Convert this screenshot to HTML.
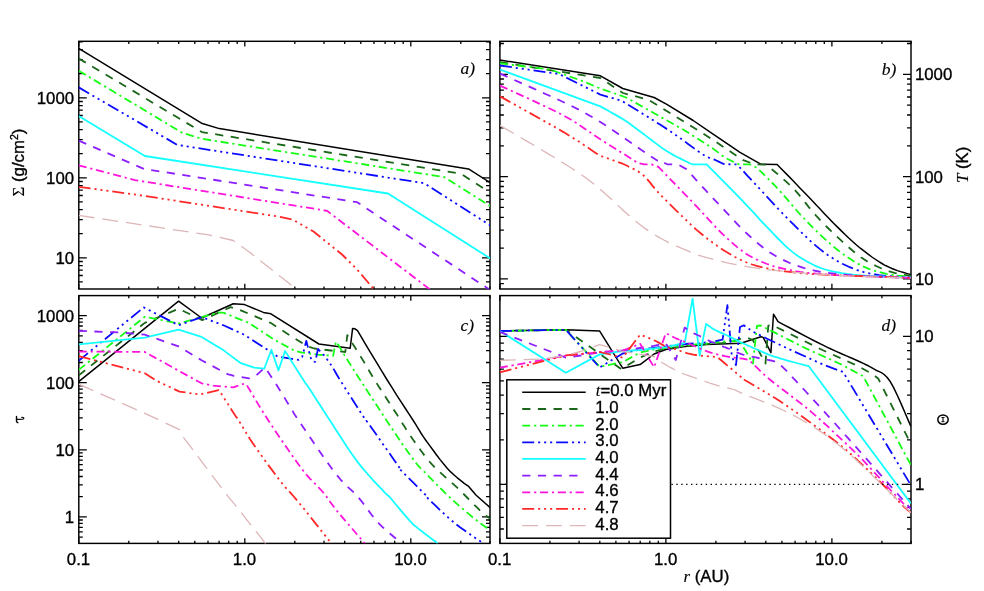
<!DOCTYPE html>
<html><head><meta charset="utf-8"><title>disk evolution</title>
<style>
html,body{margin:0;padding:0;background:#fff}
svg text{fill:#000}
svg{will-change:transform}
.t{font-family:"Liberation Sans",sans-serif;font-size:16.8px;stroke:#000;stroke-width:.35px}
.it{font-family:"Liberation Serif",serif;font-style:italic;stroke:#000;stroke-width:.12px}
.sy{font-family:"Liberation Serif",serif;stroke-width:.1px}
</style></head><body>
<svg width="984" height="591" viewBox="0 0 984 591" style="display:block">
<rect width="984" height="591" fill="#fff"/>
<defs>
<clipPath id="ca"><rect x="78.8" y="41.3" width="411.2" height="247.7"/></clipPath>
<clipPath id="cb"><rect x="499.9" y="41.3" width="411.1" height="247.7"/></clipPath>
<clipPath id="cc"><rect x="78.8" y="295.6" width="411.2" height="247.8"/></clipPath>
<clipPath id="cd"><rect x="499.9" y="295.6" width="411.1" height="247.8"/></clipPath>
</defs>
<g stroke="#000" stroke-width="1.3" fill="none">
<rect x="78.8" y="41.3" width="411.2" height="247.7" fill="none" stroke="#000" stroke-width="1.45"/>
<path d="M78.8 41.3v5.2M78.8 289.0v-5.2"/>
<path d="M128.8 41.3v2.6M128.8 289.0v-2.6"/>
<path d="M158.0 41.3v2.6M158.0 289.0v-2.6"/>
<path d="M178.7 41.3v2.6M178.7 289.0v-2.6"/>
<path d="M194.8 41.3v2.6M194.8 289.0v-2.6"/>
<path d="M208.0 41.3v2.6M208.0 289.0v-2.6"/>
<path d="M219.1 41.3v2.6M219.1 289.0v-2.6"/>
<path d="M228.7 41.3v2.6M228.7 289.0v-2.6"/>
<path d="M237.2 41.3v2.6M237.2 289.0v-2.6"/>
<path d="M244.8 41.3v5.2M244.8 289.0v-5.2"/>
<path d="M294.8 41.3v2.6M294.8 289.0v-2.6"/>
<path d="M324.0 41.3v2.6M324.0 289.0v-2.6"/>
<path d="M344.7 41.3v2.6M344.7 289.0v-2.6"/>
<path d="M360.8 41.3v2.6M360.8 289.0v-2.6"/>
<path d="M374.0 41.3v2.6M374.0 289.0v-2.6"/>
<path d="M385.1 41.3v2.6M385.1 289.0v-2.6"/>
<path d="M394.7 41.3v2.6M394.7 289.0v-2.6"/>
<path d="M403.2 41.3v2.6M403.2 289.0v-2.6"/>
<path d="M410.8 41.3v5.2M410.8 289.0v-5.2"/>
<path d="M460.8 41.3v2.6M460.8 289.0v-2.6"/>
<path d="M490.0 41.3v2.6M490.0 289.0v-2.6"/>
<path d="M78.8 257.8h8M490.0 257.8h-8"/>
<path d="M78.8 177.8h8M490.0 177.8h-8"/>
<path d="M78.8 97.8h8M490.0 97.8h-8"/>
<path d="M78.8 281.9h4M490.0 281.9h-4"/>
<path d="M78.8 275.5h4M490.0 275.5h-4"/>
<path d="M78.8 270.2h4M490.0 270.2h-4"/>
<path d="M78.8 265.6h4M490.0 265.6h-4"/>
<path d="M78.8 261.5h4M490.0 261.5h-4"/>
<path d="M78.8 233.7h4M490.0 233.7h-4"/>
<path d="M78.8 219.6h4M490.0 219.6h-4"/>
<path d="M78.8 209.6h4M490.0 209.6h-4"/>
<path d="M78.8 201.9h4M490.0 201.9h-4"/>
<path d="M78.8 195.5h4M490.0 195.5h-4"/>
<path d="M78.8 190.2h4M490.0 190.2h-4"/>
<path d="M78.8 185.6h4M490.0 185.6h-4"/>
<path d="M78.8 181.5h4M490.0 181.5h-4"/>
<path d="M78.8 153.7h4M490.0 153.7h-4"/>
<path d="M78.8 139.6h4M490.0 139.6h-4"/>
<path d="M78.8 129.6h4M490.0 129.6h-4"/>
<path d="M78.8 121.9h4M490.0 121.9h-4"/>
<path d="M78.8 115.5h4M490.0 115.5h-4"/>
<path d="M78.8 110.2h4M490.0 110.2h-4"/>
<path d="M78.8 105.6h4M490.0 105.6h-4"/>
<path d="M78.8 101.5h4M490.0 101.5h-4"/>
<path d="M78.8 73.7h4M490.0 73.7h-4"/>
<path d="M78.8 59.6h4M490.0 59.6h-4"/>
<path d="M78.8 49.6h4M490.0 49.6h-4"/>
<path d="M78.8 41.9h4M490.0 41.9h-4"/>
<rect x="499.9" y="41.3" width="411.1" height="247.7" fill="none" stroke="#000" stroke-width="1.45"/>
<path d="M499.9 41.3v5.2M499.9 289.0v-5.2"/>
<path d="M549.9 41.3v2.6M549.9 289.0v-2.6"/>
<path d="M579.1 41.3v2.6M579.1 289.0v-2.6"/>
<path d="M599.8 41.3v2.6M599.8 289.0v-2.6"/>
<path d="M615.9 41.3v2.6M615.9 289.0v-2.6"/>
<path d="M629.1 41.3v2.6M629.1 289.0v-2.6"/>
<path d="M640.2 41.3v2.6M640.2 289.0v-2.6"/>
<path d="M649.8 41.3v2.6M649.8 289.0v-2.6"/>
<path d="M658.3 41.3v2.6M658.3 289.0v-2.6"/>
<path d="M665.9 41.3v5.2M665.9 289.0v-5.2"/>
<path d="M715.9 41.3v2.6M715.9 289.0v-2.6"/>
<path d="M745.1 41.3v2.6M745.1 289.0v-2.6"/>
<path d="M765.8 41.3v2.6M765.8 289.0v-2.6"/>
<path d="M781.9 41.3v2.6M781.9 289.0v-2.6"/>
<path d="M795.1 41.3v2.6M795.1 289.0v-2.6"/>
<path d="M806.2 41.3v2.6M806.2 289.0v-2.6"/>
<path d="M815.8 41.3v2.6M815.8 289.0v-2.6"/>
<path d="M824.3 41.3v2.6M824.3 289.0v-2.6"/>
<path d="M831.9 41.3v5.2M831.9 289.0v-5.2"/>
<path d="M881.9 41.3v2.6M881.9 289.0v-2.6"/>
<path d="M911.1 41.3v2.6M911.1 289.0v-2.6"/>
<path d="M499.9 278.9h8M911.0 278.9h-8"/>
<path d="M499.9 176.6h8M911.0 176.6h-8"/>
<path d="M499.9 74.3h8M911.0 74.3h-8"/>
<path d="M499.9 283.6h4M911.0 283.6h-4"/>
<path d="M499.9 248.1h4M911.0 248.1h-4"/>
<path d="M499.9 230.1h4M911.0 230.1h-4"/>
<path d="M499.9 217.3h4M911.0 217.3h-4"/>
<path d="M499.9 207.4h4M911.0 207.4h-4"/>
<path d="M499.9 199.3h4M911.0 199.3h-4"/>
<path d="M499.9 192.4h4M911.0 192.4h-4"/>
<path d="M499.9 186.5h4M911.0 186.5h-4"/>
<path d="M499.9 181.3h4M911.0 181.3h-4"/>
<path d="M499.9 145.8h4M911.0 145.8h-4"/>
<path d="M499.9 127.8h4M911.0 127.8h-4"/>
<path d="M499.9 115.0h4M911.0 115.0h-4"/>
<path d="M499.9 105.1h4M911.0 105.1h-4"/>
<path d="M499.9 97.0h4M911.0 97.0h-4"/>
<path d="M499.9 90.1h4M911.0 90.1h-4"/>
<path d="M499.9 84.2h4M911.0 84.2h-4"/>
<path d="M499.9 79.0h4M911.0 79.0h-4"/>
<path d="M499.9 43.5h4M911.0 43.5h-4"/>
<rect x="78.8" y="295.6" width="411.2" height="247.8" fill="none" stroke="#000" stroke-width="1.45"/>
<path d="M78.8 295.6v5.2M78.8 543.4v-5.2"/>
<path d="M128.8 295.6v2.6M128.8 543.4v-2.6"/>
<path d="M158.0 295.6v2.6M158.0 543.4v-2.6"/>
<path d="M178.7 295.6v2.6M178.7 543.4v-2.6"/>
<path d="M194.8 295.6v2.6M194.8 543.4v-2.6"/>
<path d="M208.0 295.6v2.6M208.0 543.4v-2.6"/>
<path d="M219.1 295.6v2.6M219.1 543.4v-2.6"/>
<path d="M228.7 295.6v2.6M228.7 543.4v-2.6"/>
<path d="M237.2 295.6v2.6M237.2 543.4v-2.6"/>
<path d="M244.8 295.6v5.2M244.8 543.4v-5.2"/>
<path d="M294.8 295.6v2.6M294.8 543.4v-2.6"/>
<path d="M324.0 295.6v2.6M324.0 543.4v-2.6"/>
<path d="M344.7 295.6v2.6M344.7 543.4v-2.6"/>
<path d="M360.8 295.6v2.6M360.8 543.4v-2.6"/>
<path d="M374.0 295.6v2.6M374.0 543.4v-2.6"/>
<path d="M385.1 295.6v2.6M385.1 543.4v-2.6"/>
<path d="M394.7 295.6v2.6M394.7 543.4v-2.6"/>
<path d="M403.2 295.6v2.6M403.2 543.4v-2.6"/>
<path d="M410.8 295.6v5.2M410.8 543.4v-5.2"/>
<path d="M460.8 295.6v2.6M460.8 543.4v-2.6"/>
<path d="M490.0 295.6v2.6M490.0 543.4v-2.6"/>
<path d="M78.8 516.9h8M490.0 516.9h-8"/>
<path d="M78.8 449.8h8M490.0 449.8h-8"/>
<path d="M78.8 382.7h8M490.0 382.7h-8"/>
<path d="M78.8 315.6h8M490.0 315.6h-8"/>
<path d="M78.8 537.1h4M490.0 537.1h-4"/>
<path d="M78.8 531.8h4M490.0 531.8h-4"/>
<path d="M78.8 527.3h4M490.0 527.3h-4"/>
<path d="M78.8 523.4h4M490.0 523.4h-4"/>
<path d="M78.8 520.0h4M490.0 520.0h-4"/>
<path d="M78.8 496.7h4M490.0 496.7h-4"/>
<path d="M78.8 484.9h4M490.0 484.9h-4"/>
<path d="M78.8 476.5h4M490.0 476.5h-4"/>
<path d="M78.8 470.0h4M490.0 470.0h-4"/>
<path d="M78.8 464.7h4M490.0 464.7h-4"/>
<path d="M78.8 460.2h4M490.0 460.2h-4"/>
<path d="M78.8 456.3h4M490.0 456.3h-4"/>
<path d="M78.8 452.9h4M490.0 452.9h-4"/>
<path d="M78.8 429.6h4M490.0 429.6h-4"/>
<path d="M78.8 417.8h4M490.0 417.8h-4"/>
<path d="M78.8 409.4h4M490.0 409.4h-4"/>
<path d="M78.8 402.9h4M490.0 402.9h-4"/>
<path d="M78.8 397.6h4M490.0 397.6h-4"/>
<path d="M78.8 393.1h4M490.0 393.1h-4"/>
<path d="M78.8 389.2h4M490.0 389.2h-4"/>
<path d="M78.8 385.8h4M490.0 385.8h-4"/>
<path d="M78.8 362.5h4M490.0 362.5h-4"/>
<path d="M78.8 350.7h4M490.0 350.7h-4"/>
<path d="M78.8 342.3h4M490.0 342.3h-4"/>
<path d="M78.8 335.8h4M490.0 335.8h-4"/>
<path d="M78.8 330.5h4M490.0 330.5h-4"/>
<path d="M78.8 326.0h4M490.0 326.0h-4"/>
<path d="M78.8 322.1h4M490.0 322.1h-4"/>
<path d="M78.8 318.7h4M490.0 318.7h-4"/>
<rect x="499.9" y="295.6" width="411.1" height="247.8" fill="none" stroke="#000" stroke-width="1.45"/>
<path d="M499.9 295.6v5.2M499.9 543.4v-5.2"/>
<path d="M549.9 295.6v2.6M549.9 543.4v-2.6"/>
<path d="M579.1 295.6v2.6M579.1 543.4v-2.6"/>
<path d="M599.8 295.6v2.6M599.8 543.4v-2.6"/>
<path d="M615.9 295.6v2.6M615.9 543.4v-2.6"/>
<path d="M629.1 295.6v2.6M629.1 543.4v-2.6"/>
<path d="M640.2 295.6v2.6M640.2 543.4v-2.6"/>
<path d="M649.8 295.6v2.6M649.8 543.4v-2.6"/>
<path d="M658.3 295.6v2.6M658.3 543.4v-2.6"/>
<path d="M665.9 295.6v5.2M665.9 543.4v-5.2"/>
<path d="M715.9 295.6v2.6M715.9 543.4v-2.6"/>
<path d="M745.1 295.6v2.6M745.1 543.4v-2.6"/>
<path d="M765.8 295.6v2.6M765.8 543.4v-2.6"/>
<path d="M781.9 295.6v2.6M781.9 543.4v-2.6"/>
<path d="M795.1 295.6v2.6M795.1 543.4v-2.6"/>
<path d="M806.2 295.6v2.6M806.2 543.4v-2.6"/>
<path d="M815.8 295.6v2.6M815.8 543.4v-2.6"/>
<path d="M824.3 295.6v2.6M824.3 543.4v-2.6"/>
<path d="M831.9 295.6v5.2M831.9 543.4v-5.2"/>
<path d="M881.9 295.6v2.6M881.9 543.4v-2.6"/>
<path d="M911.1 295.6v2.6M911.1 543.4v-2.6"/>
<path d="M499.9 484.4h8M911.0 484.4h-8"/>
<path d="M499.9 336.3h8M911.0 336.3h-8"/>
<path d="M499.9 529.0h4M911.0 529.0h-4"/>
<path d="M499.9 517.3h4M911.0 517.3h-4"/>
<path d="M499.9 507.3h4M911.0 507.3h-4"/>
<path d="M499.9 498.8h4M911.0 498.8h-4"/>
<path d="M499.9 491.2h4M911.0 491.2h-4"/>
<path d="M499.9 439.8h4M911.0 439.8h-4"/>
<path d="M499.9 413.7h4M911.0 413.7h-4"/>
<path d="M499.9 395.2h4M911.0 395.2h-4"/>
<path d="M499.9 380.9h4M911.0 380.9h-4"/>
<path d="M499.9 369.2h4M911.0 369.2h-4"/>
<path d="M499.9 359.2h4M911.0 359.2h-4"/>
<path d="M499.9 350.7h4M911.0 350.7h-4"/>
<path d="M499.9 343.1h4M911.0 343.1h-4"/>
</g>
<g>
<polyline clip-path="url(#ca)" points="78.7,48.3 201.5,123.2 219.3,128.6 468.5,168.9 490.2,182.7" fill="none" stroke="#000000" stroke-width="1.5" stroke-linejoin="round"/>
<polyline clip-path="url(#ca)" points="78.7,58.4 201.9,132.1 461.1,173.8 490.0,192.5" fill="none" stroke="#1a671a" stroke-width="1.8" stroke-linejoin="round" stroke-dasharray="8.2 7.5"/>
<polyline clip-path="url(#ca)" points="78.7,70.7 181.8,132.6 201.9,138.8 444.3,177.1 490.0,206.0" fill="none" stroke="#14ff14" stroke-width="1.8" stroke-linejoin="round" stroke-dasharray="8.1 3.8 2.2 3.7"/>
<polyline clip-path="url(#ca)" points="78.7,87.4 177.3,144.9 424.2,183.2 490.0,225.2" fill="none" stroke="#0a0aff" stroke-width="1.8" stroke-linejoin="round" stroke-dasharray="12 3.9 2.1 3.9 2.1 3.9 2.1 3.9"/>
<polyline clip-path="url(#ca)" points="78.7,116.0 144.9,156.0 388.0,193.5 490.2,258.4" fill="none" stroke="#14ffff" stroke-width="1.8" stroke-linejoin="round"/>
<polyline clip-path="url(#ca)" points="78.7,140.6 143.8,168.9 357.1,202.2 489.0,289.2" fill="none" stroke="#8c1eff" stroke-width="1.8" stroke-linejoin="round" stroke-dasharray="8.2 7.5"/>
<polyline clip-path="url(#ca)" points="78.7,165.4 134.8,180.1 327.0,210.8 428.7,288.5 430.0,289.5" fill="none" stroke="#ff14dc" stroke-width="1.8" stroke-linejoin="round" stroke-dasharray="8.1 3.8 2.2 3.7"/>
<polyline clip-path="url(#ca)" points="78.7,186.8 143.8,195.8 280.0,216.8 293.4,219.9 313.5,231.5 342.6,255.0 357.1,269.5 373.9,289.2" fill="none" stroke="#ff2828" stroke-width="1.8" stroke-linejoin="round" stroke-dasharray="12 3.9 2.1 3.9 2.1 3.9 2.1 3.9"/>
<polyline clip-path="url(#ca)" points="78.7,215.4 208.6,234.9 233.2,240.5 248.9,251.7 290.0,284.1 297.0,289.5" fill="none" stroke="#ddb6b8" stroke-width="1.3" stroke-linejoin="round" stroke-dasharray="15.9 7.9"/>
</g>
<g>
<polyline clip-path="url(#cb)" points="500.0,60.1 600.4,75.8 622.8,88.5 654.1,97.5 666.4,104.2 693.2,120.5 712.0,133.3 740.0,152.4 761.2,164.3 777.1,164.4 781.0,168.4 786.6,174.1 793.1,180.8 799.9,187.9 806.3,194.5 811.8,200.2 816.2,204.9 820.1,209.0 823.7,212.9 827.1,216.5 830.5,220.1 834.1,223.7 837.8,227.4 841.6,231.1 845.3,234.8 849.0,238.3 852.8,241.7 856.5,245.0 860.3,248.2 864.2,251.2 868.1,254.2 871.9,257.0 875.6,259.5 878.9,261.7 881.9,263.5 884.6,265.1 887.1,266.3 889.5,267.4 891.9,268.5 894.5,269.5 897.4,270.6 900.5,271.6 903.7,272.5 906.6,273.4 909.1,274.1 910.9,274.6" fill="none" stroke="#000000" stroke-width="1.5" stroke-linejoin="round"/>
<polyline clip-path="url(#cb)" points="500.0,62.2 600.4,78.0 622.8,93.0 648.5,99.7 703.0,133.4 712.0,139.3 743.3,160.2 754.5,164.3 766.0,164.6 771.5,168.9 773.9,171.0 777.3,173.9 781.3,177.3 785.6,181.1 789.9,185.1 793.9,189.1 797.6,193.2 801.4,197.7 805.1,202.4 808.8,207.1 812.6,211.6 816.3,215.9 820.0,219.9 823.7,223.8 827.4,227.5 831.2,231.2 834.9,234.7 838.6,238.2 842.4,241.7 846.2,245.1 850.1,248.5 853.9,251.7 857.5,254.7 861.0,257.3 864.3,259.5 867.4,261.5 870.4,263.1 873.3,264.6 876.1,266.0 878.9,267.3 881.6,268.5 884.2,269.6 886.8,270.5 889.3,271.4 891.9,272.2 894.5,272.9 897.4,273.6 900.5,274.2 903.7,274.8 906.6,275.2 909.1,275.6 910.9,275.9" fill="none" stroke="#1a671a" stroke-width="1.8" stroke-linejoin="round" stroke-dasharray="8.2 7.5"/>
<polyline clip-path="url(#cb)" points="500.0,63.3 550.0,69.5 581.4,80.7 600.4,88.5 626.1,97.5 684.0,130.0 712.0,147.8 725.4,157.9 738.9,164.3 750.0,164.4 757.0,167.8 759.3,170.1 762.5,173.2 766.2,176.8 770.3,180.9 774.4,185.0 778.2,189.1 781.8,193.1 785.5,197.4 789.2,201.7 792.9,206.2 796.7,210.5 800.6,214.8 804.6,219.0 808.7,223.3 812.9,227.6 817.1,231.7 821.2,235.7 825.2,239.4 829.1,242.8 832.9,246.1 836.7,249.2 840.4,252.1 844.0,254.8 847.6,257.3 851.1,259.6 854.4,261.7 857.7,263.6 860.9,265.3 864.2,266.9 867.7,268.4 871.3,269.8 875.0,270.9 878.8,272.0 882.6,272.9 886.3,273.8 890.0,274.5 893.8,275.1 897.8,275.6 901.8,276.0 905.5,276.3 908.6,276.6 910.9,276.8" fill="none" stroke="#14ff14" stroke-width="1.8" stroke-linejoin="round" stroke-dasharray="8.1 3.8 2.2 3.7"/>
<polyline clip-path="url(#cb)" points="500.0,65.5 559.0,74.0 600.4,94.6 621.7,100.8 626.9,104.0 634.3,108.5 642.9,113.9 652.0,119.5 660.8,125.1 668.4,130.0 675.2,134.6 681.8,139.3 688.1,143.9 693.8,148.1 698.9,151.8 703.0,154.6 705.9,156.4 707.8,157.4 708.9,157.7 709.7,157.8 710.6,158.0 712.0,158.5 714.0,159.4 716.3,160.5 718.7,161.6 721.0,162.7 722.9,163.6 724.3,164.2 736.6,164.4 740.2,167.8 743.2,171.0 747.3,175.6 752.3,180.9 757.5,186.5 762.6,192.0 767.1,196.9 771.0,201.1 774.7,205.1 778.2,208.9 781.8,212.6 785.5,216.4 789.4,220.4 793.7,224.7 798.2,229.2 802.8,233.7 807.5,238.2 812.0,242.4 816.3,246.1 820.3,249.4 824.1,252.3 827.7,254.9 831.3,257.3 834.9,259.6 838.6,261.7 842.3,263.7 846.1,265.5 849.8,267.2 853.5,268.7 857.3,270.1 861.0,271.3 864.7,272.4 868.2,273.2 871.8,273.9 875.5,274.5 879.3,275.1 883.3,275.6 887.9,276.1 893.1,276.5 898.5,276.8 903.5,277.0 907.8,277.2 910.9,277.4" fill="none" stroke="#0a0aff" stroke-width="1.8" stroke-linejoin="round" stroke-dasharray="12 3.9 2.1 3.9 2.1 3.9 2.1 3.9"/>
<polyline clip-path="url(#cb)" points="500.0,69.5 600.4,106.4 603.1,107.9 606.9,110.0 611.3,112.5 616.0,115.1 620.3,117.6 623.9,119.8 626.5,121.5 628.4,122.8 630.1,124.0 631.8,125.3 634.1,127.0 637.1,129.2 641.2,132.2 646.0,135.9 651.3,140.0 656.8,144.1 662.1,147.9 667.0,151.2 671.7,154.1 676.6,156.7 681.4,159.1 685.7,161.2 689.3,163.0 692.0,164.3 706.6,164.4 708.2,166.0 710.5,168.3 713.1,170.9 716.1,173.9 719.2,177.1 722.4,180.3 725.7,183.7 729.3,187.4 733.1,191.2 737.0,195.2 740.9,199.2 744.7,203.2 748.4,207.2 752.2,211.2 755.9,215.2 759.6,219.3 763.4,223.3 767.1,227.2 770.9,231.1 774.7,235.1 778.5,239.0 782.3,242.8 785.9,246.3 789.4,249.4 792.6,252.1 795.7,254.4 798.6,256.4 801.5,258.3 804.4,260.0 807.3,261.7 810.3,263.3 813.2,264.8 816.1,266.1 819.1,267.3 822.1,268.5 825.2,269.5 828.4,270.4 831.7,271.2 835.0,271.9 838.3,272.5 841.8,273.1 845.3,273.6 848.7,274.1 851.8,274.5 855.1,274.8 858.6,275.2 862.7,275.5 867.7,275.8 874.2,276.1 882.2,276.5 890.7,276.8 898.9,277.1 906.0,277.4 910.9,277.6" fill="none" stroke="#14ffff" stroke-width="1.8" stroke-linejoin="round"/>
<polyline clip-path="url(#cb)" points="500.0,73.6 508.1,77.2 519.7,82.4 533.2,88.4 547.2,94.7 560.0,100.5 570.2,105.3 577.8,109.1 583.9,112.3 588.9,115.2 593.2,117.7 596.9,120.0 600.4,122.1 603.1,123.7 604.7,124.7 605.8,125.4 607.0,126.2 609.0,127.6 612.5,130.0 618.0,133.8 625.2,138.7 633.2,144.2 641.0,149.7 648.0,154.4 653.0,157.8 656.0,159.7 657.6,160.6 658.2,160.7 658.3,160.5 658.2,160.2 658.4,160.2 667.3,164.3 678.0,164.5 686.3,169.1 688.1,171.1 690.7,173.9 693.7,177.2 696.9,180.8 700.2,184.5 703.4,187.9 706.4,191.1 709.5,194.4 712.6,197.7 715.8,201.1 719.0,204.5 722.4,208.1 725.9,211.9 729.6,215.8 733.3,219.9 737.1,223.9 740.9,227.8 744.7,231.5 748.4,235.0 752.2,238.4 755.9,241.7 759.6,244.8 763.4,247.8 767.1,250.5 770.8,253.0 774.5,255.3 778.2,257.4 782.0,259.3 785.7,261.1 789.4,262.8 793.1,264.3 796.9,265.7 800.6,266.9 804.3,268.1 808.1,269.1 811.8,270.0 815.4,270.8 818.8,271.5 822.2,272.1 825.8,272.6 829.7,273.1 834.1,273.6 838.9,274.1 844.1,274.6 849.6,275.1 855.4,275.5 861.4,275.9 867.7,276.3 874.8,276.6 883.0,276.9 891.4,277.2 899.3,277.5 906.1,277.7 910.9,277.8" fill="none" stroke="#8c1eff" stroke-width="1.8" stroke-linejoin="round" stroke-dasharray="8.2 7.5"/>
<polyline clip-path="url(#cb)" points="500.0,85.6 507.2,88.9 517.5,93.6 529.5,99.0 542.0,104.9 553.8,110.5 563.5,115.4 571.2,119.7 577.8,123.9 583.7,127.9 589.1,131.6 594.2,135.2 599.2,138.6 604.2,141.8 609.0,144.8 613.4,147.5 617.6,150.1 621.4,152.5 624.8,154.6 627.8,156.5 630.5,158.2 632.8,159.8 634.8,161.0 636.4,162.1 637.7,162.9 644.4,164.3 651.7,164.4 658.4,166.9 662.3,170.9 667.9,176.7 674.5,183.5 681.2,190.4 687.3,196.7 691.9,201.5 694.8,204.6 696.7,206.5 697.9,207.8 698.9,208.9 700.2,210.3 702.2,212.5 705.0,215.5 708.1,218.9 711.6,222.7 715.1,226.5 718.8,230.3 722.4,233.8 726.0,237.2 729.7,240.6 733.4,243.9 737.2,247.1 741.0,250.1 744.7,252.8 748.4,255.2 752.2,257.3 755.9,259.2 759.6,260.9 763.4,262.5 767.1,264.0 770.8,265.3 774.5,266.5 778.2,267.5 782.0,268.4 785.7,269.2 789.4,270.0 793.0,270.7 796.4,271.3 799.9,271.9 803.5,272.4 807.4,272.8 811.8,273.3 816.4,273.7 821.0,274.1 825.9,274.5 831.3,274.9 837.7,275.2 845.3,275.6 855.1,276.0 867.2,276.4 880.2,276.8 892.7,277.2 903.4,277.6 910.9,277.8" fill="none" stroke="#ff14dc" stroke-width="1.8" stroke-linejoin="round" stroke-dasharray="8.1 3.8 2.2 3.7"/>
<polyline clip-path="url(#cb)" points="500.0,96.4 507.2,100.4 517.5,106.1 529.5,112.8 542.0,119.8 553.8,126.5 563.5,132.1 571.5,137.0 578.8,141.6 585.3,145.9 591.0,149.7 595.6,152.9 599.2,155.3 622.7,163.7 627.1,165.8 628.8,166.7 631.1,167.8 633.9,169.1 636.9,170.7 639.9,172.6 642.7,174.7 645.3,177.1 647.8,179.9 650.3,182.9 652.8,186.1 655.5,189.4 658.4,192.6 661.5,195.8 664.7,199.1 668.1,202.5 671.5,205.9 675.0,209.3 678.5,212.7 682.0,216.1 685.5,219.5 689.1,222.9 692.7,226.3 696.3,229.6 700.0,232.7 703.7,235.7 707.4,238.7 711.1,241.5 714.9,244.3 718.7,246.9 722.4,249.4 726.1,251.8 729.8,254.0 733.5,256.2 737.3,258.2 741.0,260.0 744.7,261.7 748.4,263.2 752.2,264.5 755.9,265.6 759.6,266.6 763.4,267.5 767.1,268.4 770.7,269.2 774.1,269.8 777.5,270.3 781.1,270.8 785.0,271.3 789.4,271.8 793.7,272.3 797.8,272.8 802.1,273.3 807.4,273.7 814.1,274.2 823.0,274.7 835.5,275.2 851.5,275.8 869.0,276.4 886.1,277.0 900.7,277.5 910.9,277.8" fill="none" stroke="#ff2828" stroke-width="1.8" stroke-linejoin="round" stroke-dasharray="12 3.9 2.1 3.9 2.1 3.9 2.1 3.9"/>
<polyline clip-path="url(#cb)" points="500.0,125.5 503.6,127.6 508.6,130.5 514.5,133.9 521.0,137.7 527.6,141.6 533.9,145.3 540.3,149.1 547.0,153.1 554.0,157.3 560.7,161.4 566.9,165.2 572.4,168.7 577.0,171.7 580.8,174.3 584.2,176.7 587.3,179.0 590.4,181.3 593.5,183.7 596.7,186.3 599.8,188.9 602.8,191.5 605.7,194.2 608.6,196.8 611.4,199.3 614.1,201.8 616.7,204.2 619.2,206.6 621.8,209.0 624.4,211.4 627.1,213.8 629.9,216.3 632.8,218.7 635.8,221.2 638.8,223.7 641.9,226.1 645.0,228.4 648.2,230.6 651.5,232.8 654.8,234.8 658.2,236.9 661.6,238.8 665.1,240.7 668.8,242.6 672.7,244.4 676.7,246.2 680.6,247.8 684.2,249.3 687.4,250.7 689.9,251.8 692.0,252.7 693.7,253.4 695.4,254.1 697.4,254.9 700.0,255.7 703.2,256.7 706.7,257.7 710.6,258.7 714.6,259.8 718.6,260.8 722.4,261.7 726.1,262.6 729.8,263.4 733.5,264.1 737.3,264.8 741.0,265.5 744.7,266.2 748.3,266.8 751.7,267.4 755.2,267.9 758.8,268.4 762.7,269.0 767.1,269.5 771.9,270.1 777.0,270.6 782.5,271.2 788.2,271.8 794.2,272.4 800.6,272.9 807.2,273.4 813.9,273.9 820.9,274.4 828.4,274.9 836.5,275.4 845.3,275.8 855.8,276.2 868.0,276.7 880.9,277.1 893.1,277.5 903.5,277.8 910.9,278.0" fill="none" stroke="#ddb6b8" stroke-width="1.3" stroke-linejoin="round" stroke-dasharray="15.9 7.9"/>
</g>
<g>
<polyline clip-path="url(#cc)" points="78.7,381.6 178.6,301.2 201.6,318.0 233.2,303.7 244.6,304.6 263.4,312.4 270.9,313.8 318.9,344.0 350.2,348.2 352.6,328.4 355.0,328.8 357.5,330.6 360.8,336.1 365.3,343.8 370.7,352.8 376.5,362.4 382.1,371.7 387.2,380.0 391.9,387.4 396.5,394.8 401.1,401.8 405.4,408.5 409.4,414.6 412.9,420.0 415.7,424.4 417.8,427.8 419.5,430.7 421.2,433.5 423.1,436.4 425.6,440.0 428.8,444.4 432.4,449.3 436.2,454.5 440.1,459.6 443.9,464.3 447.4,468.4 450.7,471.9 454.1,475.0 457.3,477.8 460.2,480.1 462.7,482.1 464.5,483.6 468.3,486.1 475.9,495.0 489.9,507.5" fill="none" stroke="#000000" stroke-width="1.5" stroke-linejoin="round"/>
<polyline clip-path="url(#cc)" points="78.7,375.4 144.8,322.9 178.6,308.8 202.3,320.1 230.7,307.1 240.8,310.4 270.9,323.0 294.5,338.3 307.9,346.5 314.4,348.5 330.7,350.5 345.3,352.0 347.3,335.1 351.8,342.4 353.1,344.5 355.0,347.4 357.2,350.9 359.5,354.6 361.8,358.4 364.0,361.9 365.9,365.1 367.7,368.2 369.4,371.2 371.3,374.5 373.5,378.1 376.0,382.2 379.2,387.2 382.9,393.0 387.0,399.2 390.9,405.2 394.3,410.5 397.0,414.6 398.6,417.2 399.5,418.6 399.9,419.3 400.2,419.8 400.7,420.6 401.7,422.2 403.1,424.5 404.8,427.1 406.6,430.0 408.6,433.2 410.9,436.5 413.3,440.0 416.0,443.7 418.8,447.8 421.9,452.0 425.2,456.4 428.6,460.6 432.2,464.7 436.0,468.6 440.1,472.4 444.3,476.2 448.6,479.9 452.8,483.6 456.9,487.4 461.0,491.4 465.1,495.5 469.2,499.7 473.1,503.7 476.7,507.2 479.7,510.2 482.2,512.5 484.4,514.3 486.2,515.8 487.7,516.9 488.9,517.8 489.9,518.5" fill="none" stroke="#1a671a" stroke-width="1.8" stroke-linejoin="round" stroke-dasharray="8.2 7.5"/>
<polyline clip-path="url(#cc)" points="78.7,369.9 144.8,316.8 178.6,323.5 201.6,317.1 219.0,312.3 224.0,312.9 249.1,323.0 274.3,339.7 294.9,350.9 302.2,352.6 317.6,354.6 333.1,355.8 335.9,341.6 338.8,345.6 339.8,347.3 341.0,349.3 342.5,351.9 344.5,355.3 347.3,359.8 351.0,365.6 356.0,373.5 362.4,383.3 369.4,394.2 376.7,405.3 383.5,415.8 389.4,424.7 394.5,432.3 399.1,439.2 403.4,445.5 407.3,451.1 410.9,456.0 414.0,460.3 416.4,463.5 418.1,465.5 419.3,466.9 420.6,468.2 422.3,469.8 424.7,472.2 428.0,475.6 431.9,479.7 436.2,484.0 440.7,488.5 445.1,492.9 449.3,496.9 453.3,500.6 457.2,504.1 461.1,507.5 464.9,510.8 468.6,513.9 472.1,516.8 475.6,519.6 479.1,522.3 482.4,524.8 485.5,527.0 488.0,528.9 489.9,530.3" fill="none" stroke="#14ff14" stroke-width="1.8" stroke-linejoin="round" stroke-dasharray="8.1 3.8 2.2 3.7"/>
<polyline clip-path="url(#cc)" points="78.7,360.7 143.7,307.4 178.6,325.2 201.6,317.1 224.0,325.5 244.1,334.7 267.6,349.8 277.6,356.5 287.7,358.2 298.9,359.9 302.2,357.0 306.3,340.8 307.5,345.6 310.3,357.0 312.8,361.5 315.2,361.9 318.0,348.9 324.1,355.4 324.9,356.4 325.9,357.8 327.2,359.5 328.6,361.3 330.0,363.4 331.5,365.6 332.9,367.8 334.1,369.9 335.5,372.3 337.0,375.0 339.0,378.2 341.4,382.2 344.7,387.4 348.7,393.8 353.2,400.7 357.5,407.5 361.4,413.5 364.3,418.0 365.9,420.4 366.4,421.1 366.4,421.0 366.5,421.0 367.3,421.9 369.3,424.7 373.1,430.0 378.2,437.3 384.0,445.6 389.8,453.8 394.8,461.0 398.4,466.1 400.1,468.7 400.4,469.5 400.0,469.3 399.5,468.8 399.6,468.9 401.0,470.3 404.0,473.4 408.2,477.6 413.1,482.4 417.9,487.2 422.1,491.4 425.2,494.5 426.7,496.1 427.0,496.7 426.6,496.6 426.4,496.6 426.8,497.1 428.4,498.8 431.5,501.8 435.5,505.7 440.1,510.1 445.1,514.8 450.2,519.3 455.0,523.4 460.0,527.2 465.4,531.1 470.9,534.9 476.0,538.4 480.3,541.3 483.4,543.4" fill="none" stroke="#0a0aff" stroke-width="1.8" stroke-linejoin="round" stroke-dasharray="12 3.9 2.1 3.9 2.1 3.9 2.1 3.9"/>
<polyline clip-path="url(#cc)" points="78.7,344.3 144.8,337.6 178.6,329.7 201.6,336.9 224.0,350.6 240.8,363.2 254.2,367.7 264.2,368.7 271.4,349.8 278.4,370.4 285.1,351.0 287.2,354.4 290.3,359.2 293.8,364.9 297.5,370.7 300.8,375.9 303.4,380.0 305.0,382.5 306.0,383.9 306.7,384.8 307.4,385.7 308.5,387.3 310.3,390.0 312.9,394.0 316.0,398.9 319.6,404.4 323.3,410.3 327.3,416.4 331.3,422.5 335.4,428.9 339.8,435.7 344.3,442.7 348.9,449.7 353.6,456.4 358.1,462.6 362.9,468.6 368.1,474.5 373.2,480.3 378.0,485.4 382.1,489.7 385.0,492.9 389.4,496.7 391.7,499.5 395.0,503.5 398.9,508.1 402.9,512.9 406.6,517.2 409.6,520.6 411.7,522.8 413.2,524.4 414.4,525.5 415.6,526.4 417.0,527.5 419.0,529.1 421.8,531.3 425.2,534.0 428.9,536.8 432.5,539.5 435.6,541.8 437.7,543.4" fill="none" stroke="#14ffff" stroke-width="1.8" stroke-linejoin="round"/>
<polyline clip-path="url(#cc)" points="78.7,330.9 120.3,332.5 144.8,334.7 178.6,346.4 201.6,360.3 227.5,374.1 234.0,375.8 249.1,378.3 255.8,375.8 265.0,367.4 266.4,369.5 268.3,372.3 270.5,375.7 272.9,379.4 275.4,383.1 277.6,386.6 279.7,390.0 281.8,393.4 284.0,396.9 286.1,400.4 288.1,403.7 290.0,406.8 291.5,409.3 292.6,411.0 293.5,412.7 294.8,414.8 296.9,417.9 300.0,422.5 304.6,429.3 310.5,438.0 317.1,447.7 323.9,457.5 330.3,466.5 335.8,473.8 340.3,479.3 344.3,483.6 347.9,487.1 351.3,490.2 354.7,493.4 358.1,497.1 361.6,501.3 364.9,505.7 368.1,510.1 371.4,514.5 374.8,518.8 378.3,522.8 382.3,526.8 386.7,530.8 391.3,534.7 395.5,538.2 399.1,541.2 401.7,543.4" fill="none" stroke="#8c1eff" stroke-width="1.8" stroke-linejoin="round" stroke-dasharray="8.2 7.5"/>
<polyline clip-path="url(#cc)" points="78.7,351.5 144.8,352.0 178.6,370.7 201.6,383.3 213.1,385.6 233.2,387.4 244.8,383.5 246.4,384.5 248.7,388.3 251.8,393.5 255.5,399.7 259.6,406.6 264.1,413.8 268.7,421.0 273.8,428.7 279.5,437.2 285.6,446.1 291.6,454.8 297.3,462.7 302.2,469.4 306.4,474.6 310.1,478.8 313.5,482.3 316.6,485.3 319.5,488.3 322.4,491.5 325.0,494.7 327.2,497.6 329.2,500.5 331.3,503.5 333.8,506.8 336.9,510.8 341.1,515.8 346.2,521.9 351.8,528.3 357.1,534.5 361.6,539.7 364.8,543.4" fill="none" stroke="#ff14dc" stroke-width="1.8" stroke-linejoin="round" stroke-dasharray="8.1 3.8 2.2 3.7"/>
<polyline clip-path="url(#cc)" points="78.7,356.2 144.8,373.2 157.2,381.1 179.5,391.6 199.7,394.5 218.7,390.1 219.2,390.8 219.8,391.7 220.6,392.9 221.6,394.3 222.7,395.9 224.0,397.9 225.6,400.5 227.7,403.6 229.8,407.1 232.0,410.5 233.9,413.5 235.4,415.8 236.3,417.1 236.6,417.5 236.8,417.5 236.9,417.7 237.4,418.3 238.5,420.0 240.1,422.7 242.1,426.0 244.3,429.8 246.9,434.1 249.8,438.8 253.1,443.7 257.0,449.3 261.6,455.8 266.6,462.7 271.5,469.4 276.1,475.5 279.9,480.6 282.9,484.4 285.4,487.3 287.5,489.7 289.4,491.7 291.3,493.7 293.3,496.0 295.3,498.3 297.0,500.3 298.7,502.3 300.5,504.6 302.8,507.3 305.6,510.8 309.4,515.6 314.1,521.6 319.2,528.0 324.1,534.3 328.3,539.6 331.3,543.4" fill="none" stroke="#ff2828" stroke-width="1.8" stroke-linejoin="round" stroke-dasharray="12 3.9 2.1 3.9 2.1 3.9 2.1 3.9"/>
<polyline clip-path="url(#cc)" points="78.7,384.2 144.8,413.3 179.5,429.6 184.0,438.1 189.0,444.7 196.2,454.2 204.5,465.4 213.0,476.6 220.6,486.6 226.2,494.0 229.4,498.2 231.0,500.1 231.6,500.8 232.0,501.2 233.0,502.4 235.3,505.2 239.3,510.2 244.5,516.8 250.2,524.1 255.9,531.3 260.8,537.4 264.2,541.8 266.0,544.1 266.7,545.0 266.7,544.9 266.2,544.3 265.7,543.6 265.5,543.4" fill="none" stroke="#ddb6b8" stroke-width="1.3" stroke-linejoin="round" stroke-dasharray="15.9 7.9"/>
</g>
<g>
<polyline clip-path="url(#cd)" points="499.8,330.9 565.9,329.8 599.7,331.1 622.7,368.2 640.1,364.6 654.1,354.0 665.8,349.5 684.7,346.4 706.2,344.4 740.7,343.3 761.0,336.8 763.2,337.4 770.9,352.6 773.5,314.2 775.8,317.8 778.0,321.6 783.0,324.3 790.1,328.0 798.4,332.5 807.2,337.1 815.6,341.5 823.0,345.2 829.4,348.3 835.6,351.1 841.5,353.7 847.0,356.1 852.0,358.3 856.5,360.3 860.3,362.0 863.3,363.4 866.0,364.7 868.3,365.8 870.7,367.1 873.3,368.7 876.0,370.2 878.7,371.4 881.4,372.6 884.1,374.5 887.0,377.2 890.0,381.2 893.5,387.4 897.4,395.5 901.5,404.6 905.3,413.5 908.6,421.1 910.9,426.4" fill="none" stroke="#000000" stroke-width="1.5" stroke-linejoin="round"/>
<polyline clip-path="url(#cd)" points="499.8,331.0 565.9,329.8 621.1,369.0 640.1,357.6 654.1,351.5 665.8,348.6 684.7,346.0 706.0,344.2 727.0,342.8 746.0,337.3 752.8,340.0 765.5,363.5 768.3,325.6 772.8,325.3 823.0,350.3 856.5,365.3 873.3,374.5 878.3,378.7 910.9,444.0" fill="none" stroke="#1a671a" stroke-width="1.8" stroke-linejoin="round" stroke-dasharray="8.2 7.5"/>
<polyline clip-path="url(#cd)" points="499.8,331.0 565.9,329.8 599.7,366.7 622.7,362.1 640.1,352.5 654.1,349.4 665.8,347.8 684.7,345.5 706.0,343.5 730.0,340.8 740.0,341.5 753.0,363.5 756.9,326.0 760.7,325.5 806.3,348.6 839.8,363.7 863.2,376.2 910.9,465.0" fill="none" stroke="#14ff14" stroke-width="1.8" stroke-linejoin="round" stroke-dasharray="8.1 3.8 2.2 3.7"/>
<polyline clip-path="url(#cd)" points="499.8,331.0 565.9,329.8 599.7,367.5 611.0,360.6 622.7,353.5 640.1,349.5 665.8,346.5 684.7,344.0 710.4,342.0 722.6,339.6 727.4,305.1 731.9,357.0 736.0,365.0 740.0,327.0 743.8,325.3 752.8,331.6 767.1,338.7 789.5,349.4 823.0,364.5 843.1,372.0 910.9,485.2" fill="none" stroke="#0a0aff" stroke-width="1.8" stroke-linejoin="round" stroke-dasharray="12 3.9 2.1 3.9 2.1 3.9 2.1 3.9"/>
<polyline clip-path="url(#cd)" points="499.8,330.9 565.9,372.8 599.7,354.4 622.7,351.0 640.1,350.0 665.8,347.2 684.7,343.0 692.6,298.7 699.7,355.6 706.1,323.9 707.0,324.6 708.2,325.4 709.7,326.5 711.4,327.7 713.2,328.9 715.2,330.0 717.5,331.1 720.0,332.4 722.8,333.6 725.5,334.8 728.2,336.0 730.5,337.1 732.5,338.1 734.3,339.0 735.9,339.8 737.5,340.6 739.1,341.4 740.7,342.2 742.4,343.0 744.1,343.8 745.8,344.5 747.4,345.3 749.1,346.0 750.8,346.8 752.5,347.6 754.1,348.3 755.8,349.0 757.5,349.8 759.2,350.5 761.0,351.3 762.8,352.1 764.6,352.9 766.5,353.7 768.4,354.5 770.5,355.3 772.8,356.1 775.3,356.9 777.9,357.7 780.7,358.6 783.6,359.4 786.5,360.3 789.5,361.1 792.8,362.0 796.5,363.0 800.2,364.0 803.7,364.9 806.7,365.6 808.8,366.2 910.9,503.4" fill="none" stroke="#14ffff" stroke-width="1.8" stroke-linejoin="round"/>
<polyline clip-path="url(#cd)" points="499.8,331.9 565.9,357.6 580.5,355.5 599.7,352.3 622.7,350.5 640.1,348.0 654.1,345.8 665.8,343.3 675.8,360.0 684.7,327.6 685.6,328.2 686.8,329.0 688.2,329.9 689.7,330.9 691.2,331.9 692.6,332.7 693.8,333.4 695.1,333.9 696.2,334.5 697.4,335.0 698.6,335.5 699.7,336.0 700.8,336.6 701.9,337.1 703.0,337.7 704.0,338.2 705.1,338.8 706.1,339.3 707.1,339.8 708.0,340.2 708.8,340.6 709.8,341.0 710.8,341.5 712.1,342.0 713.6,342.7 715.4,343.4 717.2,344.2 719.1,345.0 720.9,345.7 722.6,346.4 724.0,347.0 725.3,347.4 726.6,347.8 727.8,348.3 729.1,348.7 730.5,349.3 732.0,350.0 733.5,350.7 735.1,351.6 736.8,352.4 738.7,353.2 740.7,353.9 742.9,354.6 745.4,355.2 748.0,355.7 750.6,356.3 753.3,356.9 755.9,357.4 758.5,358.0 761.3,358.5 764.0,359.0 766.6,359.6 769.0,360.1 771.1,360.5 772.8,360.9 774.3,361.3 775.5,361.7 776.5,362.0 777.3,362.3 778.0,362.5 786.4,370.7 787.6,372.0 789.3,373.9 791.4,376.1 793.5,378.4 795.7,380.7 797.6,382.8 799.2,384.5 800.5,385.9 801.8,387.3 803.3,388.9 805.3,391.0 807.9,393.8 811.1,397.3 814.8,401.3 818.8,405.7 823.4,410.7 828.5,416.3 834.1,422.5 840.6,429.8 848.1,438.2 856.1,447.2 864.2,456.3 872.0,465.0 878.9,472.8 885.3,480.1 891.7,487.3 897.7,494.0 903.1,500.1 907.6,505.2 910.9,509.0" fill="none" stroke="#8c1eff" stroke-width="1.8" stroke-linejoin="round" stroke-dasharray="8.2 7.5"/>
<polyline clip-path="url(#cd)" points="499.8,367.7 565.9,355.7 599.7,352.1 622.7,350.5 631.3,347.4 640.1,343.8 654.1,367.3 665.8,333.1 666.9,333.7 668.5,334.5 670.3,335.5 672.3,336.5 674.2,337.5 675.9,338.3 677.4,338.9 678.7,339.5 680.0,340.0 681.4,340.5 682.9,341.1 684.7,341.8 686.9,342.7 689.3,343.8 692.0,345.0 694.7,346.2 697.3,347.4 699.7,348.4 701.9,349.3 703.9,350.1 705.9,350.9 707.8,351.6 709.9,352.3 712.1,353.0 714.5,353.7 717.0,354.3 719.6,354.9 722.2,355.5 724.9,356.1 727.6,356.6 730.5,357.1 733.7,357.5 736.9,358.0 739.9,358.3 742.6,358.7 744.7,359.0 746.2,359.3 747.2,359.5 747.8,359.6 748.2,359.8 748.5,359.9 748.8,360.0 756.9,367.6 758.0,368.7 759.4,370.1 761.1,371.8 763.3,373.9 766.4,376.6 770.4,380.0 775.6,384.1 782.0,389.0 789.1,394.4 796.7,400.2 804.4,406.2 811.8,412.4 819.2,418.8 826.9,425.7 834.6,432.9 842.3,440.1 849.7,447.1 856.5,453.8 862.9,460.2 869.0,466.6 874.7,472.9 880.2,478.8 885.3,484.4 890.0,489.5 894.5,494.2 898.7,498.7 902.5,502.7 905.9,506.3 908.8,509.3 910.9,511.5" fill="none" stroke="#ff14dc" stroke-width="1.8" stroke-linejoin="round" stroke-dasharray="8.1 3.8 2.2 3.7"/>
<polyline clip-path="url(#cd)" points="499.8,372.4 565.9,355.4 599.7,352.0 607.9,354.0 622.7,357.6 640.1,334.7 641.6,335.3 643.8,336.1 646.4,337.1 649.1,338.2 651.7,339.3 654.1,340.3 656.2,341.3 658.2,342.4 660.2,343.5 662.1,344.6 664.0,345.6 665.8,346.4 667.6,347.1 669.3,347.6 671.0,348.1 672.7,348.5 674.3,348.9 675.9,349.4 677.5,349.9 679.0,350.5 680.4,351.0 681.9,351.5 683.3,352.0 684.7,352.5 686.1,352.9 687.4,353.3 688.8,353.6 690.1,353.9 691.3,354.2 692.6,354.5 693.7,354.7 694.6,354.9 695.5,355.0 696.6,355.2 697.9,355.3 699.7,355.5 702.3,355.8 705.5,356.1 709.1,356.4 712.6,356.7 715.5,357.0 717.6,357.2 724.4,363.0 726.3,364.6 729.1,366.9 732.3,369.6 735.6,372.4 738.5,374.9 740.7,376.7 741.7,377.7 741.9,377.9 741.6,377.9 741.6,378.0 742.5,378.6 744.7,380.0 748.6,382.3 753.7,385.3 759.6,388.8 765.9,392.5 772.3,396.4 778.2,400.1 783.8,403.8 789.4,407.6 795.0,411.5 800.6,415.5 806.2,419.5 811.8,423.6 817.4,427.7 823.0,431.8 828.5,436.0 834.1,440.2 839.7,444.7 845.3,449.3 851.0,454.3 856.9,459.6 862.8,465.1 868.5,470.5 874.0,475.8 878.9,480.6 883.4,485.1 887.6,489.6 891.5,493.8 895.1,497.7 898.3,501.1 901.2,504.1 903.7,506.5 905.7,508.4 907.4,509.9 908.9,511.0 910.0,511.9 910.9,512.7" fill="none" stroke="#ff2828" stroke-width="1.8" stroke-linejoin="round" stroke-dasharray="12 3.9 2.1 3.9 2.1 3.9 2.1 3.9"/>
<polyline clip-path="url(#cd)" points="499.8,360.3 542.3,359.0 565.9,355.5 580.5,351.5 599.7,344.7 611.0,347.9 622.7,351.5 640.1,354.3 654.1,356.5 654.7,357.0 655.5,357.7 656.5,358.6 657.7,359.6 659.0,360.6 660.5,361.6 662.2,362.7 664.3,363.9 666.5,365.2 668.7,366.5 670.8,367.7 672.7,368.7 674.2,369.5 675.5,370.3 676.6,370.9 677.8,371.5 679.1,372.1 680.8,372.8 682.9,373.6 685.3,374.5 687.9,375.4 690.5,376.3 692.9,377.2 695.0,377.9 696.6,378.5 697.9,379.0 699.0,379.4 700.1,379.8 701.4,380.2 703.0,380.8 705.0,381.5 707.2,382.2 709.6,383.0 712.2,383.8 714.7,384.6 717.3,385.4 719.9,386.1 722.7,386.8 725.6,387.4 728.4,388.1 731.1,388.8 733.5,389.5 735.4,390.2 736.8,390.8 738.0,391.4 739.5,392.2 741.6,393.2 744.7,394.5 749.0,396.2 754.2,398.2 760.0,400.4 766.2,402.8 772.4,405.3 778.2,407.9 783.8,410.5 789.4,413.3 795.0,416.1 800.6,419.2 806.2,422.4 811.8,425.8 817.4,429.4 823.0,433.3 828.5,437.3 834.1,441.5 839.7,445.8 845.3,450.4 850.9,455.2 856.6,460.3 862.2,465.6 867.8,471.0 873.4,476.4 878.9,481.7 884.7,487.2 890.9,493.2 897.0,499.2 902.7,504.7 907.4,509.3 910.9,512.7" fill="none" stroke="#ddb6b8" stroke-width="1.3" stroke-linejoin="round" stroke-dasharray="15.9 7.9"/>
</g>
<line x1="499.9" y1="484.4" x2="911.0" y2="484.4" stroke="#000" stroke-width="1.3" stroke-dasharray="1.4 3.5"/>
<rect x="506.8" y="379.8" width="163.7" height="158.4" fill="#fff" stroke="#000" stroke-width="1.5"/>
<line x1="522.2" y1="392.3" x2="585.7" y2="392.3" stroke="#000000" stroke-width="1.5"/>
<text x="595.8" y="396.3" class="t"><tspan class="it">t</tspan>=0.0 Myr</text>
<line x1="522.2" y1="409.0" x2="584.0" y2="409.0" stroke="#1a671a" stroke-width="1.8" stroke-dasharray="8.2 7.5"/>
<text x="595.3" y="413.0" class="t">1.0</text>
<line x1="522.2" y1="425.6" x2="585.7" y2="425.6" stroke="#14ff14" stroke-width="1.8" stroke-dasharray="8.1 3.8 2.2 3.7"/>
<text x="595.3" y="429.6" class="t">2.0</text>
<line x1="522.2" y1="442.3" x2="585.7" y2="442.3" stroke="#0a0aff" stroke-width="1.8" stroke-dasharray="12 3.9 2.1 3.9 2.1 3.9 2.1 3.9"/>
<text x="595.3" y="446.3" class="t">3.0</text>
<line x1="522.2" y1="458.9" x2="585.7" y2="458.9" stroke="#14ffff" stroke-width="1.8"/>
<text x="595.3" y="462.9" class="t">4.0</text>
<line x1="522.2" y1="475.6" x2="584.0" y2="475.6" stroke="#8c1eff" stroke-width="1.8" stroke-dasharray="8.2 7.5"/>
<text x="595.3" y="479.6" class="t">4.4</text>
<line x1="522.2" y1="492.3" x2="585.7" y2="492.3" stroke="#ff14dc" stroke-width="1.8" stroke-dasharray="8.1 3.8 2.2 3.7"/>
<text x="595.3" y="496.3" class="t">4.6</text>
<line x1="522.2" y1="508.9" x2="585.7" y2="508.9" stroke="#ff2828" stroke-width="1.8" stroke-dasharray="12 3.9 2.1 3.9 2.1 3.9 2.1 3.9"/>
<text x="595.3" y="512.9" class="t">4.7</text>
<line x1="522.2" y1="525.6" x2="585.7" y2="525.6" stroke="#ddb6b8" stroke-width="1.3" stroke-dasharray="15.9 7.9"/>
<text x="595.3" y="529.6" class="t">4.8</text>
<text x="74.1" y="263.7" class="t" text-anchor="end">10</text>
<text x="914.9" y="284.8" class="t">10</text>
<text x="74.1" y="183.7" class="t" text-anchor="end">100</text>
<text x="914.9" y="182.5" class="t">100</text>
<text x="74.1" y="103.7" class="t" text-anchor="end">1000</text>
<text x="914.9" y="80.2" class="t">1000</text>
<text x="74.1" y="522.8" class="t" text-anchor="end">1</text>
<text x="74.1" y="455.7" class="t" text-anchor="end">10</text>
<text x="74.1" y="388.6" class="t" text-anchor="end">100</text>
<text x="74.1" y="321.5" class="t" text-anchor="end">1000</text>
<text x="914.9" y="490.3" class="t">1</text>
<text x="914.9" y="342.2" class="t">10</text>
<text x="78.5" y="564.5" class="t" text-anchor="middle">0.1</text>
<text x="244.5" y="564.5" class="t" text-anchor="middle">1.0</text>
<text x="410.5" y="564.5" class="t" text-anchor="middle">10.0</text>
<text x="499.6" y="564.5" class="t" text-anchor="middle">0.1</text>
<text x="665.6" y="564.5" class="t" text-anchor="middle">1.0</text>
<text x="831.6" y="564.5" class="t" text-anchor="middle">10.0</text>
<text x="706.4" y="582.3" class="t" text-anchor="middle"><tspan class="it">r</tspan> (AU)</text>
<text transform="translate(24,162.5) rotate(-90)" class="t" text-anchor="middle"><tspan class="sy">&#931;</tspan> (g/cm<tspan dy="-6" font-size="10.6">2</tspan><tspan dy="6">)</tspan></text>
<text transform="translate(968.3,164.9) rotate(-90)" class="t" text-anchor="middle"><tspan class="it">T</tspan> (K)</text>
<g stroke="#000" fill="none" stroke-linecap="round" stroke-linejoin="round"><path d="M16.5 416.5L16.5 421.2Q16.6 422.2 17.8 422.7" stroke-width="1.4"/><path d="M17 419.4L22.4 419.3Q24.1 419.1 23.8 418Q23.3 417.2 21.7 417.3" stroke-width="1.15"/></g>
<g stroke="#000" fill="none"><ellipse cx="943" cy="419.6" rx="5.2" ry="4.7" stroke-width="1.5"/><path d="M943 417.5v4.2" stroke-width="1.1"/><path d="M941.4 417.5h3.2M941.4 421.7h3.2" stroke-width="0.9"/></g>
<text x="460.4" y="74.2" class="it" font-size="17.5">a)</text>
<text x="881.8" y="74.9" class="it" font-size="17.5">b)</text>
<text x="460.4" y="331.0" class="it" font-size="17.5">c)</text>
<text x="881.6" y="331.0" class="it" font-size="17.5">d)</text>
</svg>
</body></html>
